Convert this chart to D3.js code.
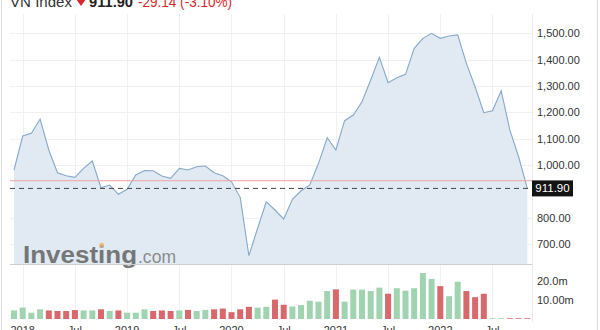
<!DOCTYPE html>
<html><head><meta charset="utf-8">
<script src="https://cdn.jsdelivr.net/npm/d3@7/dist/d3.min.js"></script>
<style>html,body{margin:0;padding:0;background:#fff;overflow:hidden}svg{display:block;font-family:Arial,"Liberation Sans",sans-serif}</style>
</head><body><svg id="c" width="600" height="330"></svg>
<script>
const months = ["2017-12","2018-01","2018-02","2018-03","2018-04","2018-05","2018-06","2018-07","2018-08","2018-09","2018-10","2018-11",
"2018-12","2019-01","2019-02","2019-03","2019-04","2019-05","2019-06","2019-07","2019-08","2019-09","2019-10","2019-11",
"2019-12","2020-01","2020-02","2020-03","2020-04","2020-05","2020-06","2020-07","2020-08","2020-09","2020-10","2020-11",
"2020-12","2021-01","2021-02","2021-03","2021-04","2021-05","2021-06","2021-07","2021-08","2021-09","2021-10","2021-11",
"2021-12","2022-01","2022-02","2022-03","2022-04","2022-05","2022-06","2022-07","2022-08","2022-09","2022-10","2022-11"];
const closes = [981.7,1110.6,1120.9,1175.1,1057.5,971.5,960.0,954.0,988.0,1015.8,
914.6,924.8,889.6,908.5,962.7,980.0,979.0,959.0,950.0,988.0,
981.7,994.0,997.0,971.5,960.0,937.0,878.0,656.8,760.7,861.5,
830.0,796.0,870.6,903.0,925.0,1007.0,1104.0,1057.5,1168.6,1190.0,
1240.7,1323.0,1409.0,1312.7,1331.7,1344.5,1443.0,1481.0,1500.0,1481.0,
1490.0,1494.0,1386.0,1297.5,1199.0,1206.5,1282.0,1133.0,1032.0,911.9];
const volumes = [4.5,6.0,3.3,5.1,4.5,4.2,4.2,4.7,4.5,4.5,
5.1,4.2,4.5,3.3,3.3,5.1,4.2,4.5,4.2,4.5,
4.8,4.2,4.8,5.1,5.5,3.6,5.1,6.4,6.0,6.4,
10.2,7.5,6.6,7.3,9.6,9.1,14.7,15.6,9.1,15.5,
15.5,14.7,16.5,13.3,16.2,14.9,16.2,24.2,21.1,17.3,
12.0,19.6,14.7,11.5,13.3,0.4,0.4,0.4,0.4,0.4];
const xTickMonths = ["2018-01","2018-07","2019-01","2019-07","2020-01","2020-07","2021-01","2021-07","2022-01","2022-07"];
const xTickLabels = ["2018","Jul","2019","Jul","2020","Jul","2021","Jul","2022","Jul"];
const priceTicks = [700,800,1000,1100,1200,1300,1400,1500];
const volTicks = [10,20];
const volTickLabels = ["10.00m","20.0m"];
const lastPrice = 911.90;
const prevClose = 941.04;
const header = {name:"VN Index", price:"911.90", change:"-29.14 (-3.10%)"};

const svg = d3.select("#c");
const left = 10, right = 532, paneTop = 14, paneBottom = 264.5;
const x = d3.scalePoint().domain(months).range([14, 527.3]);
const y = d3.scaleLinear().domain([700,1500]).range([244.3,33.3]);
const yv = d3.scaleLinear().domain([0,20]).range([319,281]);

// borders
svg.append("line").attr("x1",1.5).attr("x2",1.5).attr("y1",0).attr("y2",330).attr("stroke","#dcdcdc");
svg.append("line").attr("x1",597.5).attr("x2",597.5).attr("y1",0).attr("y2",330).attr("stroke","#dcdcdc");

// grid
const grid = svg.append("g").attr("stroke","#f1f1f1").attr("stroke-width",1);
grid.selectAll(".gv").data(xTickMonths).join("line")
  .attr("x1",d=>Math.round(x(d))+0.5).attr("x2",d=>Math.round(x(d))+0.5).attr("y1",paneTop).attr("y2",320);
grid.selectAll(".gh").data(priceTicks).join("line")
  .attr("x1",left).attr("x2",right).attr("y1",d=>Math.round(y(d))+0.5).attr("y2",d=>Math.round(y(d))+0.5);

// area + line
const pts = months.map((m,i)=>({m, v:closes[i]}));
svg.append("path").datum(pts)
  .attr("d", d3.area().x(d=>x(d.m)).y0(paneBottom).y1(d=>y(d.v)))
  .attr("fill","#e1eaf3");
svg.append("path").datum(pts)
  .attr("d", d3.line().x(d=>x(d.m)).y(d=>y(d.v)))
  .attr("fill","none").attr("stroke","#86a9c9").attr("stroke-width",1.1);

// watermark
const wm = svg.append("g");
wm.append("text").attr("x",23).attr("y",263).attr("font-size",23).attr("font-weight","bold")
  .attr("textLength",114).attr("lengthAdjust","spacingAndGlyphs").attr("fill","#6a6a6a").attr("opacity",0.9).text("Investing");
wm.append("text").attr("x",138).attr("y",263).attr("font-size",19)
  .attr("textLength",38).attr("lengthAdjust","spacingAndGlyphs").attr("fill","#8c8c8c").text(".com");
wm.append("circle").attr("cx",101.7).attr("cy",245).attr("r",2.3).attr("fill","#f0b060").attr("opacity",0.8);

// separators
svg.append("line").attr("x1",left).attr("x2",right).attr("y1",paneBottom).attr("y2",paneBottom).attr("stroke","#cfcfcf");
svg.append("line").attr("x1",right+0.5).attr("x2",right+0.5).attr("y1",paneTop).attr("y2",322).attr("stroke","#ebebeb");

// previous close and last price
svg.append("line").attr("x1",left).attr("x2",right).attr("y1",y(prevClose)).attr("y2",y(prevClose))
  .attr("stroke","#efa3a3").attr("stroke-width",1);
svg.append("line").attr("x1",left).attr("x2",right).attr("y1",y(lastPrice)).attr("y2",y(lastPrice))
  .attr("stroke","#444").attr("stroke-width",1).attr("stroke-dasharray","5,4");

// volume bars
const bw = 6;
svg.append("g").selectAll("rect").data(months).join("rect")
  .attr("x",d=>x(d)-bw/2).attr("width",bw)
  .attr("y",(d,i)=>yv(volumes[i])).attr("height",(d,i)=>yv(0)-yv(volumes[i]))
  .attr("fill",(d,i)=> (i===0 || closes[i]>=closes[i-1]) ? "#a0d4b1" : "#d8686b");

// price axis
const ya = svg.append("g").attr("transform",`translate(${right},0)`)
  .call(d3.axisRight(y).tickValues(priceTicks).tickFormat(d3.format(",.2f")).tickSize(0).tickPadding(5));
ya.select(".domain").remove();
ya.selectAll("text").attr("font-size",11).attr("fill","#333").attr("font-family",'Arial,"Liberation Sans",sans-serif');

// last price label
const ly = y(lastPrice);
svg.append("rect").attr("x",right).attr("y",ly-8).attr("width",41).attr("height",16).attr("fill","#141414");
svg.append("text").attr("x",right+20.5).attr("y",ly+4).attr("text-anchor","middle").attr("font-size",11.5)
  .attr("fill","#fff").text(d3.format(",.2f")(lastPrice));

// volume axis
const va = svg.append("g").attr("transform",`translate(${right},0)`)
  .call(d3.axisRight(yv).tickValues(volTicks).tickFormat((d,i)=>volTickLabels[i]).tickSize(0).tickPadding(5));
va.select(".domain").remove();
va.selectAll("text").attr("font-size",11).attr("fill","#333").attr("font-family",'Arial,"Liberation Sans",sans-serif');

// x labels (cut by the bottom edge as in the reference)
svg.append("g").selectAll("text").data(xTickMonths).join("text")
  .attr("x",d=>x(d)).attr("y",334).attr("text-anchor","middle").attr("font-size",11).attr("fill","#333")
  .text((d,i)=>xTickLabels[i]);

// header (cut by the top edge as in the reference)
svg.append("text").attr("x",10).attr("y",6.5).attr("font-size",15).attr("fill","#333")
  .attr("textLength",62).attr("lengthAdjust","spacingAndGlyphs").text(header.name);
svg.append("path").attr("d","M76,-1L86,-1L81,6Z").attr("fill","#d9282b");
svg.append("text").attr("x",89).attr("y",6.5).attr("font-size",15).attr("font-weight","bold").attr("fill","#222")
  .attr("textLength",44).attr("lengthAdjust","spacingAndGlyphs").text(header.price);
svg.append("text").attr("x",138).attr("y",6.5).attr("font-size",15).attr("fill","#d9282b")
  .attr("textLength",94).attr("lengthAdjust","spacingAndGlyphs").text(header.change);
</script></body></html>
